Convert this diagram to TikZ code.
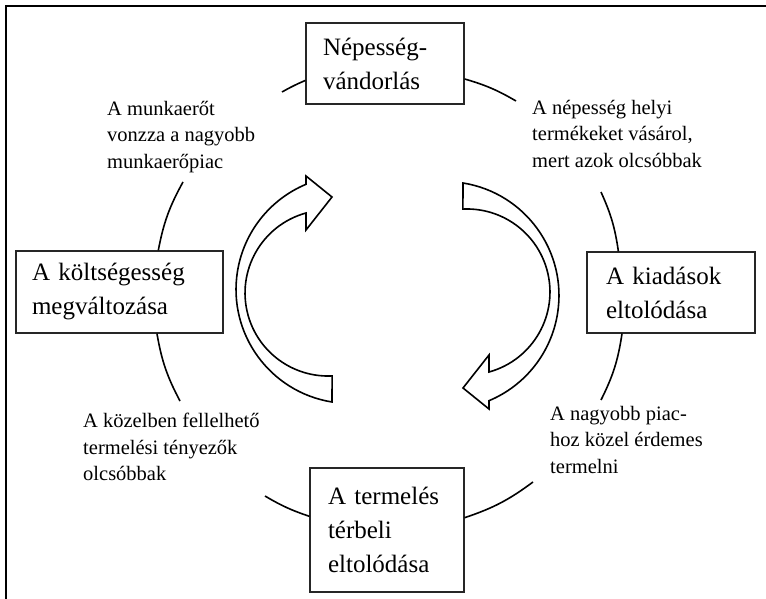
\documentclass[tikz,border=0pt]{standalone}
\usepackage{fontspec}
\setmainfont{Liberation Serif}
\begin{document}
\begin{tikzpicture}[x=1pt,y=-1pt,
  box/.style={draw=black!85, line width=1.2pt, fill=white, inner ysep=0pt, align=left, font=\fontsize{25}{34}\selectfont},
  lbl/.style={anchor=north west, inner sep=0pt, align=left, font=\fontsize{20.5}{26.5}\selectfont},
  link/.style={line width=1.6pt},
  barrow/.style={draw, line width=1.6pt, fill=white, line join=miter}]
\useasboundingbox (0,0) rectangle (766,599);
\draw[line width=1.4pt] (766,6)--(6,6)--(6,599);
% the four boxes
\node[box, text width=124pt, inner xsep=17pt, minimum height=81pt] (nep) at (385,63.5) {Népesség-\\vándorlás};
\node[box, text width=130pt, inner xsep=19pt, minimum height=81pt] (kiad) at (671,292.5) {A kiadások\\eltolódása};
\node[box, text width=118pt, inner xsep=18pt, minimum height=124pt] (term) at (387,530) {A termelés\\térbeli\\eltolódása};
\node[box, text width=175pt, inner xsep=16pt, minimum height=82pt] (kolt) at (119.5,292) {A költségesség\\megváltozása};
% texts on the circle
\node[lbl] (lmunka) at (107,101) {A munkaerőt\\vonzza a nagyobb\\munkaerőpiac};
\node[lbl] (lhelyi) at (532,100) {A népesség helyi\\termékeket vásárol,\\mert azok olcsóbbak};
\node[lbl] (lpiac) at (550,406) {A nagyobb piac-\\hoz közel érdemes\\termelni};
\node[lbl] (lkozel) at (83,413) {A közelben fellelhető\\termelési tényezők\\olcsóbbak};
\coordinate (c1) at (282,92);
\coordinate (c2) at (516,101);
\coordinate (c3) at (601,192);
\coordinate (c4) at (601,400);
\coordinate (c5) at (533,482);
\coordinate (c6) at (265,496);
\coordinate (c7) at (180,401);
\coordinate (c8) at (183,182);
\draw[link] (c1) to[bend left=3] (nep.192);
\draw[link] (nep.349) to[bend left=7] (c2);
\draw[link] (c3) to[bend left=8] (kiad.142);
\draw[link] (kiad.220) to[bend left=9] (c4);
\draw[link] (c5) to[bend left=9] (term.9);
\draw[link] (term.170) to[bend left=6] (c6);
\draw[link] (c7) to[bend left=9] (kolt.312);
\draw[link] (kolt.47) to[bend left=9] (c8);
% the two curved block arrows
\foreach \r in {0,180}
  \draw[barrow, rotate around={\r:(397.5,292.5)}] (332,402) arc[start angle=99.1, end angle=247.3, radius=114]
    --(306,176)--(332,197)--(306,230)--(306,213) arc[start angle=254.6, end angle=87.2, radius=83] --cycle;
\end{tikzpicture}
\end{document}
